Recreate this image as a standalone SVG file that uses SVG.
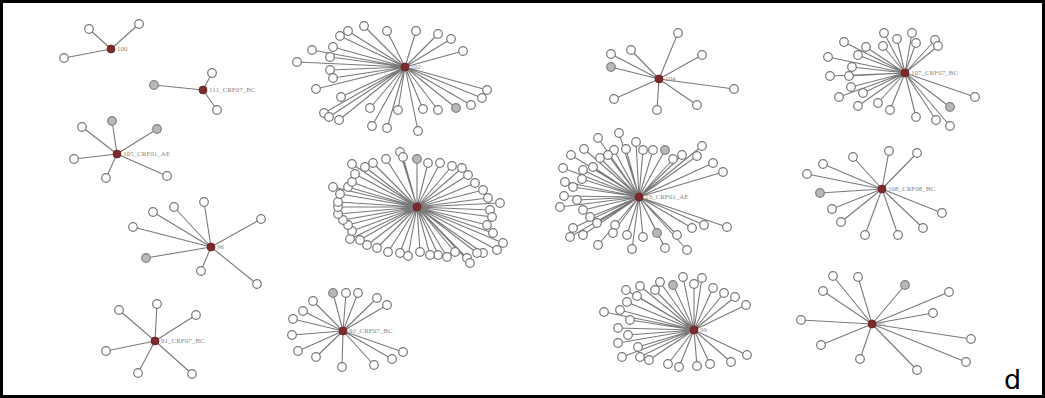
<svg xmlns="http://www.w3.org/2000/svg" width="1045" height="398" viewBox="0 0 1045 398">
<style>
.e{stroke:#7a7a7a;stroke-width:1.1;fill:none}
.l{fill:#fff;stroke:#777;stroke-width:1.2}
.g{fill:#b8b8b8;stroke:#808080;stroke-width:1.2}
.h{fill:#7b2b2b;stroke:#6a2020;stroke-width:0.8}
.t{font-family:"Liberation Serif",serif;font-size:7px;fill:#888}
</style>
<rect x="0" y="0" width="1045" height="398" fill="#fff"/>
<g id="connectors" class="e">
<path d="M111 49L89 29M111 49L139 24M111 49L64 58"/>
<path d="M203 90L154 85M203 90L212 73M203 90L217 110"/>
<path d="M117 154L82 127M117 154L112 121M117 154L157 129M117 154L74 159M117 154L106 178M117 154L167 176"/>
<path d="M211 247L204 202M211 247L174 207M211 247L153 212M211 247L133 227M211 247L146 258M211 247L201 271M211 247L257 284M211 247L261 219"/>
<path d="M155 341L119 310M155 341L157 304M155 341L196 315M155 341L106 351M155 341L138 373M155 341L192 374"/>
<path d="M405 67L364 26M405 67L348 31M405 67L340 36M405 67L387 31M405 67L416 31M405 67L438 34M405 67L451 39M405 67L463 51M405 67L312 50M405 67L333 47M405 67L330 57M405 67L297 62M405 67L330 70M405 67L333 78M405 67L316 89M405 67L341 97M405 67L324 113M405 67L329 117M405 67L339 120M405 67L370 108M405 67L372 126M405 67L387 128M405 67L398 110M405 67L418 131M405 67L423 109M405 67L438 110M405 67L456 108M405 67L471 105M405 67L482 98M405 67L487 90"/>
<path d="M417 207L400 152M417 207L403 157M417 207L417 159M417 207L386 159M417 207L373 163M417 207L365 167M417 207L352 164M417 207L428 163M417 207L440 163M417 207L452 166M417 207L462 168M417 207L468 175M417 207L475 183M417 207L483 190M417 207L488 198M417 207L500 203M417 207L490 210M417 207L492 217M417 207L487 225M417 207L493 233M417 207L503 243M417 207L497 250M417 207L483 253M417 207L477 253M417 207L467 258M417 207L470 263M417 207L455 252M417 207L447 257M417 207L438 255M417 207L430 255M417 207L420 252M417 207L408 256M417 207L400 253M417 207L388 252M417 207L377 248M417 207L367 245M417 207L360 240M417 207L350 239M417 207L352 231M417 207L348 225M417 207L343 220M417 207L338 214M417 207L338 207M417 207L338 202M417 207L340 194M417 207L333 187M417 207L348 187M417 207L352 182M417 207L355 174"/>
<path d="M343 331L333 293M343 331L346 293M343 331L358 293M343 331L377 298M343 331L387 305M343 331L313 301M343 331L303 311M343 331L293 319M343 331L292 335M343 331L298 351M343 331L316 357M343 331L342 367M343 331L374 365M343 331L392 359M343 331L403 352"/>
<path d="M659 79L678 33M659 79L702 55M659 79L631 50M659 79L611 54M659 79L611 67M659 79L734 89M659 79L697 105M659 79L657 110M659 79L614 99"/>
<path d="M639 197L619 133M639 197L598 138M639 197L636 142M639 197L584 149M639 197L571 155M639 197L614 150M639 197L626 149M639 197L643 150M639 197L653 150M639 197L665 150M639 197L673 159M639 197L682 155M639 197L697 156M639 197L702 146M639 197L713 163M639 197L723 172M639 197L600 158M639 197L608 155M639 197L593 167M639 197L583 170M639 197L563 168M639 197L582 179M639 197L565 182M639 197L573 187M639 197L564 196M639 197L577 200M639 197L560 207M639 197L583 210M639 197L590 217M639 197L597 223M639 197L573 228M639 197L570 237M639 197L583 235M639 197L598 245M639 197L615 225M639 197L613 233M639 197L627 235M639 197L632 249M639 197L643 237M639 197L657 233M639 197L665 248M639 197L677 235M639 197L692 228M639 197L704 225M639 197L727 227M639 197L687 250"/>
<path d="M694 330L683 277M694 330L702 278M694 330L694 284M694 330L673 285M694 330L660 282M694 330L640 286M694 330L655 290M694 330L626 290M694 330L637 296M694 330L627 302M694 330L620 310M694 330L604 312M694 330L630 320M694 330L618 328M694 330L628 335M694 330L618 343M694 330L638 347M694 330L622 357M694 330L640 357M694 330L649 360M694 330L668 364M694 330L679 367M694 330L697 366M694 330L710 364M694 330L731 362M694 330L747 355M694 330L713 288M694 330L724 293M694 330L735 297M694 330L746 305"/>
<path d="M905 73L884 33M905 73L897 39M905 73L912 33M905 73L916 43M905 73L935 40M905 73L938 46M905 73L883 46M905 73L866 47M905 73L844 42M905 73L858 55M905 73L828 57M905 73L852 67M905 73L830 76M905 73L849 76M905 73L851 87M905 73L863 93M905 73L839 97M905 73L858 106M905 73L878 103M905 73L890 110M905 73L916 117M905 73L936 120M905 73L950 126M905 73L950 107M905 73L975 97"/>
<path d="M882 189L889 151M882 189L917 153M882 189L853 157M882 189L823 164M882 189L807 174M882 189L820 193M882 189L832 209M882 189L841 222M882 189L865 235M882 189L898 235M882 189L923 228M882 189L942 213"/>
<path d="M872 324L833 276M872 324L858 277M872 324L905 285M872 324L823 291M872 324L949 292M872 324L933 313M872 324L801 320M872 324L821 345M872 324L860 359M872 324L917 370M872 324L971 339M872 324L966 362"/>
</g>
<g id="n100">
<circle class="l" cx="89" cy="29" r="4.3"/><circle class="l" cx="139" cy="24" r="4.3"/><circle class="l" cx="64" cy="58" r="4.3"/>
<circle class="h" cx="111" cy="49" r="4"/><text class="t" x="117" y="51">100</text>
</g>
<g id="n111">
<circle class="g" cx="154" cy="85" r="4.3"/><circle class="l" cx="212" cy="73" r="4.3"/><circle class="l" cx="217" cy="110" r="4.3"/>
<circle class="h" cx="203" cy="90" r="4"/><text class="t" x="209" y="92">111_CRF07_BC</text>
</g>
<g id="n105">
<circle class="l" cx="82" cy="127" r="4.3"/><circle class="g" cx="112" cy="121" r="4.3"/><circle class="g" cx="157" cy="129" r="4.3"/><circle class="l" cx="74" cy="159" r="4.3"/><circle class="l" cx="106" cy="178" r="4.3"/><circle class="l" cx="167" cy="176" r="4.3"/>
<circle class="h" cx="117" cy="154" r="4"/><text class="t" x="123" y="156">105_CRF01_AE</text>
</g>
<g id="n96">
<circle class="l" cx="204" cy="202" r="4.3"/><circle class="l" cx="174" cy="207" r="4.3"/><circle class="l" cx="153" cy="212" r="4.3"/><circle class="l" cx="133" cy="227" r="4.3"/><circle class="g" cx="146" cy="258" r="4.3"/><circle class="l" cx="201" cy="271" r="4.3"/><circle class="l" cx="257" cy="284" r="4.3"/><circle class="l" cx="261" cy="219" r="4.3"/>
<circle class="h" cx="211" cy="247" r="4"/><text class="t" x="217" y="249">96</text>
</g>
<g id="n91">
<circle class="l" cx="119" cy="310" r="4.3"/><circle class="l" cx="157" cy="304" r="4.3"/><circle class="l" cx="196" cy="315" r="4.3"/><circle class="l" cx="106" cy="351" r="4.3"/><circle class="l" cx="138" cy="373" r="4.3"/><circle class="l" cx="192" cy="374" r="4.3"/>
<circle class="h" cx="155" cy="341" r="4"/><text class="t" x="161" y="343">91_CRF07_BC</text>
</g>
<g id="n102">
<circle class="l" cx="364" cy="26" r="4.3"/><circle class="l" cx="348" cy="31" r="4.3"/><circle class="l" cx="340" cy="36" r="4.3"/><circle class="l" cx="387" cy="31" r="4.3"/><circle class="l" cx="416" cy="31" r="4.3"/><circle class="l" cx="438" cy="34" r="4.3"/><circle class="l" cx="451" cy="39" r="4.3"/><circle class="l" cx="463" cy="51" r="4.3"/><circle class="l" cx="312" cy="50" r="4.3"/><circle class="l" cx="333" cy="47" r="4.3"/><circle class="l" cx="330" cy="57" r="4.3"/><circle class="l" cx="297" cy="62" r="4.3"/><circle class="l" cx="330" cy="70" r="4.3"/><circle class="l" cx="333" cy="78" r="4.3"/><circle class="l" cx="316" cy="89" r="4.3"/><circle class="l" cx="341" cy="97" r="4.3"/><circle class="l" cx="324" cy="113" r="4.3"/><circle class="l" cx="329" cy="117" r="4.3"/><circle class="l" cx="339" cy="120" r="4.3"/><circle class="l" cx="370" cy="108" r="4.3"/><circle class="l" cx="372" cy="126" r="4.3"/><circle class="l" cx="387" cy="128" r="4.3"/><circle class="l" cx="398" cy="110" r="4.3"/><circle class="l" cx="418" cy="131" r="4.3"/><circle class="l" cx="423" cy="109" r="4.3"/><circle class="l" cx="438" cy="110" r="4.3"/><circle class="g" cx="456" cy="108" r="4.3"/><circle class="l" cx="471" cy="105" r="4.3"/><circle class="l" cx="482" cy="98" r="4.3"/><circle class="l" cx="487" cy="90" r="4.3"/>
<circle class="h" cx="405" cy="67" r="4"/><text class="t" x="410" y="69">102</text>
</g>
<g id="n94">
<circle class="l" cx="400" cy="152" r="4.3"/><circle class="l" cx="403" cy="157" r="4.3"/><circle class="g" cx="417" cy="159" r="4.3"/><circle class="l" cx="386" cy="159" r="4.3"/><circle class="l" cx="373" cy="163" r="4.3"/><circle class="l" cx="365" cy="167" r="4.3"/><circle class="l" cx="352" cy="164" r="4.3"/><circle class="l" cx="428" cy="163" r="4.3"/><circle class="l" cx="440" cy="163" r="4.3"/><circle class="l" cx="452" cy="166" r="4.3"/><circle class="l" cx="462" cy="168" r="4.3"/><circle class="l" cx="468" cy="175" r="4.3"/><circle class="l" cx="475" cy="183" r="4.3"/><circle class="l" cx="483" cy="190" r="4.3"/><circle class="l" cx="488" cy="198" r="4.3"/><circle class="l" cx="500" cy="203" r="4.3"/><circle class="l" cx="490" cy="210" r="4.3"/><circle class="l" cx="492" cy="217" r="4.3"/><circle class="l" cx="487" cy="225" r="4.3"/><circle class="l" cx="493" cy="233" r="4.3"/><circle class="l" cx="503" cy="243" r="4.3"/><circle class="l" cx="497" cy="250" r="4.3"/><circle class="l" cx="483" cy="253" r="4.3"/><circle class="l" cx="477" cy="253" r="4.3"/><circle class="l" cx="467" cy="258" r="4.3"/><circle class="l" cx="470" cy="263" r="4.3"/><circle class="l" cx="455" cy="252" r="4.3"/><circle class="l" cx="447" cy="257" r="4.3"/><circle class="l" cx="438" cy="255" r="4.3"/><circle class="l" cx="430" cy="255" r="4.3"/><circle class="l" cx="420" cy="252" r="4.3"/><circle class="l" cx="408" cy="256" r="4.3"/><circle class="l" cx="400" cy="253" r="4.3"/><circle class="l" cx="388" cy="252" r="4.3"/><circle class="l" cx="377" cy="248" r="4.3"/><circle class="l" cx="367" cy="245" r="4.3"/><circle class="l" cx="360" cy="240" r="4.3"/><circle class="l" cx="350" cy="239" r="4.3"/><circle class="l" cx="352" cy="231" r="4.3"/><circle class="l" cx="348" cy="225" r="4.3"/><circle class="l" cx="343" cy="220" r="4.3"/><circle class="l" cx="338" cy="214" r="4.3"/><circle class="l" cx="338" cy="207" r="4.3"/><circle class="l" cx="338" cy="202" r="4.3"/><circle class="l" cx="340" cy="194" r="4.3"/><circle class="l" cx="333" cy="187" r="4.3"/><circle class="l" cx="348" cy="187" r="4.3"/><circle class="l" cx="352" cy="182" r="4.3"/><circle class="l" cx="355" cy="174" r="4.3"/>
<circle class="h" cx="417" cy="207" r="4"/><text class="t" x="423" y="209">94</text>
</g>
<g id="n92">
<circle class="g" cx="333" cy="293" r="4.3"/><circle class="l" cx="346" cy="293" r="4.3"/><circle class="l" cx="358" cy="293" r="4.3"/><circle class="l" cx="377" cy="298" r="4.3"/><circle class="l" cx="387" cy="305" r="4.3"/><circle class="l" cx="313" cy="301" r="4.3"/><circle class="l" cx="303" cy="311" r="4.3"/><circle class="l" cx="293" cy="319" r="4.3"/><circle class="l" cx="292" cy="335" r="4.3"/><circle class="l" cx="298" cy="351" r="4.3"/><circle class="l" cx="316" cy="357" r="4.3"/><circle class="l" cx="342" cy="367" r="4.3"/><circle class="l" cx="374" cy="365" r="4.3"/><circle class="l" cx="392" cy="359" r="4.3"/><circle class="l" cx="403" cy="352" r="4.3"/>
<circle class="h" cx="343" cy="331" r="4"/><text class="t" x="349" y="333">92_CRF07_BC</text>
</g>
<g id="n104">
<circle class="l" cx="678" cy="33" r="4.3"/><circle class="l" cx="702" cy="55" r="4.3"/><circle class="l" cx="631" cy="50" r="4.3"/><circle class="l" cx="611" cy="54" r="4.3"/><circle class="g" cx="611" cy="67" r="4.3"/><circle class="l" cx="734" cy="89" r="4.3"/><circle class="l" cx="697" cy="105" r="4.3"/><circle class="l" cx="657" cy="110" r="4.3"/><circle class="l" cx="614" cy="99" r="4.3"/>
<circle class="h" cx="659" cy="79" r="4"/><text class="t" x="665" y="81">104</text>
</g>
<g id="n13">
<circle class="l" cx="619" cy="133" r="4.3"/><circle class="l" cx="598" cy="138" r="4.3"/><circle class="l" cx="636" cy="142" r="4.3"/><circle class="l" cx="584" cy="149" r="4.3"/><circle class="l" cx="571" cy="155" r="4.3"/><circle class="l" cx="614" cy="150" r="4.3"/><circle class="l" cx="626" cy="149" r="4.3"/><circle class="l" cx="643" cy="150" r="4.3"/><circle class="l" cx="653" cy="150" r="4.3"/><circle class="g" cx="665" cy="150" r="4.3"/><circle class="l" cx="673" cy="159" r="4.3"/><circle class="l" cx="682" cy="155" r="4.3"/><circle class="l" cx="697" cy="156" r="4.3"/><circle class="l" cx="702" cy="146" r="4.3"/><circle class="l" cx="713" cy="163" r="4.3"/><circle class="l" cx="723" cy="172" r="4.3"/><circle class="l" cx="600" cy="158" r="4.3"/><circle class="l" cx="608" cy="155" r="4.3"/><circle class="l" cx="593" cy="167" r="4.3"/><circle class="l" cx="583" cy="170" r="4.3"/><circle class="l" cx="563" cy="168" r="4.3"/><circle class="l" cx="582" cy="179" r="4.3"/><circle class="l" cx="565" cy="182" r="4.3"/><circle class="l" cx="573" cy="187" r="4.3"/><circle class="l" cx="564" cy="196" r="4.3"/><circle class="l" cx="577" cy="200" r="4.3"/><circle class="l" cx="560" cy="207" r="4.3"/><circle class="l" cx="583" cy="210" r="4.3"/><circle class="l" cx="590" cy="217" r="4.3"/><circle class="l" cx="597" cy="223" r="4.3"/><circle class="l" cx="573" cy="228" r="4.3"/><circle class="l" cx="570" cy="237" r="4.3"/><circle class="l" cx="583" cy="235" r="4.3"/><circle class="l" cx="598" cy="245" r="4.3"/><circle class="l" cx="615" cy="225" r="4.3"/><circle class="l" cx="613" cy="233" r="4.3"/><circle class="l" cx="627" cy="235" r="4.3"/><circle class="l" cx="632" cy="249" r="4.3"/><circle class="l" cx="643" cy="237" r="4.3"/><circle class="g" cx="657" cy="233" r="4.3"/><circle class="l" cx="665" cy="248" r="4.3"/><circle class="l" cx="677" cy="235" r="4.3"/><circle class="l" cx="692" cy="228" r="4.3"/><circle class="l" cx="704" cy="225" r="4.3"/><circle class="l" cx="727" cy="227" r="4.3"/><circle class="l" cx="687" cy="250" r="4.3"/>
<circle class="h" cx="639" cy="197" r="4"/><text class="t" x="645" y="199">13_CRF01_AE</text>
</g>
<g id="n99">
<circle class="l" cx="683" cy="277" r="4.3"/><circle class="l" cx="702" cy="278" r="4.3"/><circle class="l" cx="694" cy="284" r="4.3"/><circle class="g" cx="673" cy="285" r="4.3"/><circle class="l" cx="660" cy="282" r="4.3"/><circle class="l" cx="640" cy="286" r="4.3"/><circle class="l" cx="655" cy="290" r="4.3"/><circle class="l" cx="626" cy="290" r="4.3"/><circle class="l" cx="637" cy="296" r="4.3"/><circle class="l" cx="627" cy="302" r="4.3"/><circle class="l" cx="620" cy="310" r="4.3"/><circle class="l" cx="604" cy="312" r="4.3"/><circle class="l" cx="630" cy="320" r="4.3"/><circle class="l" cx="618" cy="328" r="4.3"/><circle class="l" cx="628" cy="335" r="4.3"/><circle class="l" cx="618" cy="343" r="4.3"/><circle class="l" cx="638" cy="347" r="4.3"/><circle class="l" cx="622" cy="357" r="4.3"/><circle class="l" cx="640" cy="357" r="4.3"/><circle class="l" cx="649" cy="360" r="4.3"/><circle class="l" cx="668" cy="364" r="4.3"/><circle class="l" cx="679" cy="367" r="4.3"/><circle class="l" cx="697" cy="366" r="4.3"/><circle class="l" cx="710" cy="364" r="4.3"/><circle class="l" cx="731" cy="362" r="4.3"/><circle class="l" cx="747" cy="355" r="4.3"/><circle class="l" cx="713" cy="288" r="4.3"/><circle class="l" cx="724" cy="293" r="4.3"/><circle class="l" cx="735" cy="297" r="4.3"/><circle class="l" cx="746" cy="305" r="4.3"/>
<circle class="h" cx="694" cy="330" r="4"/><text class="t" x="700" y="332">99</text>
</g>
<g id="n107">
<circle class="l" cx="884" cy="33" r="4.3"/><circle class="l" cx="897" cy="39" r="4.3"/><circle class="l" cx="912" cy="33" r="4.3"/><circle class="l" cx="916" cy="43" r="4.3"/><circle class="l" cx="935" cy="40" r="4.3"/><circle class="l" cx="938" cy="46" r="4.3"/><circle class="l" cx="883" cy="46" r="4.3"/><circle class="l" cx="866" cy="47" r="4.3"/><circle class="l" cx="844" cy="42" r="4.3"/><circle class="l" cx="858" cy="55" r="4.3"/><circle class="l" cx="828" cy="57" r="4.3"/><circle class="l" cx="852" cy="67" r="4.3"/><circle class="l" cx="830" cy="76" r="4.3"/><circle class="l" cx="849" cy="76" r="4.3"/><circle class="l" cx="851" cy="87" r="4.3"/><circle class="l" cx="863" cy="93" r="4.3"/><circle class="l" cx="839" cy="97" r="4.3"/><circle class="l" cx="858" cy="106" r="4.3"/><circle class="l" cx="878" cy="103" r="4.3"/><circle class="l" cx="890" cy="110" r="4.3"/><circle class="l" cx="916" cy="117" r="4.3"/><circle class="l" cx="936" cy="120" r="4.3"/><circle class="l" cx="950" cy="126" r="4.3"/><circle class="g" cx="950" cy="107" r="4.3"/><circle class="l" cx="975" cy="97" r="4.3"/>
<circle class="h" cx="905" cy="73" r="4"/><text class="t" x="911" y="75">107_CRF07_BC</text>
</g>
<g id="n108">
<circle class="l" cx="889" cy="151" r="4.3"/><circle class="l" cx="917" cy="153" r="4.3"/><circle class="l" cx="853" cy="157" r="4.3"/><circle class="l" cx="823" cy="164" r="4.3"/><circle class="l" cx="807" cy="174" r="4.3"/><circle class="g" cx="820" cy="193" r="4.3"/><circle class="l" cx="832" cy="209" r="4.3"/><circle class="l" cx="841" cy="222" r="4.3"/><circle class="l" cx="865" cy="235" r="4.3"/><circle class="l" cx="898" cy="235" r="4.3"/><circle class="l" cx="923" cy="228" r="4.3"/><circle class="l" cx="942" cy="213" r="4.3"/>
<circle class="h" cx="882" cy="189" r="4"/><text class="t" x="888" y="191">108_CRF08_BC</text>
</g>
<g id="n95">
<circle class="l" cx="833" cy="276" r="4.3"/><circle class="l" cx="858" cy="277" r="4.3"/><circle class="g" cx="905" cy="285" r="4.3"/><circle class="l" cx="823" cy="291" r="4.3"/><circle class="l" cx="949" cy="292" r="4.3"/><circle class="l" cx="933" cy="313" r="4.3"/><circle class="l" cx="801" cy="320" r="4.3"/><circle class="l" cx="821" cy="345" r="4.3"/><circle class="l" cx="860" cy="359" r="4.3"/><circle class="l" cx="917" cy="370" r="4.3"/><circle class="l" cx="971" cy="339" r="4.3"/><circle class="l" cx="966" cy="362" r="4.3"/>
<circle class="h" cx="872" cy="324" r="4"/><text class="t" x="878" y="326">95</text>
</g>
<text x="1004" y="389" font-family="DejaVu Sans, sans-serif" font-size="27" fill="#000">d</text>
<rect x="1.5" y="1.5" width="1042" height="395" fill="none" stroke="#000" stroke-width="3"/>
</svg>
